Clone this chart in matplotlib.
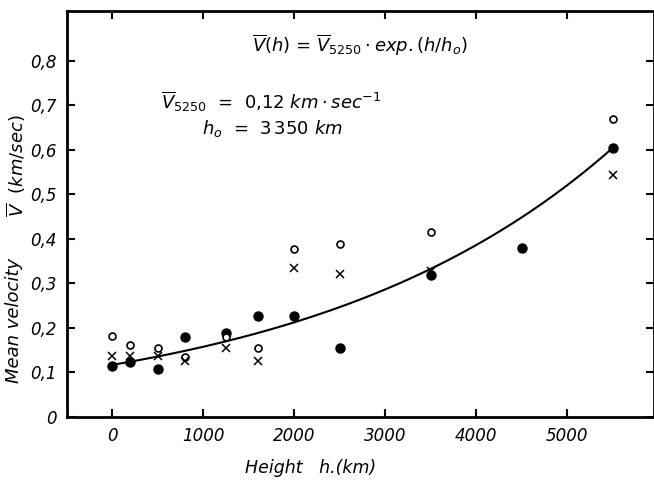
import numpy as np
import matplotlib
matplotlib.use("Agg")
import matplotlib.pyplot as plt

plt.rcParams['font.family'] = ['DejaVu Sans']
plt.rcParams['mathtext.fontset'] = 'dejavusans'

# Data
h_filled = [0, 200, 500, 800, 1250, 1600, 2000, 2500, 3500, 4500, 5500]
v_filled = [0.115, 0.123, 0.108, 0.179, 0.188, 0.227, 0.226, 0.154, 0.318, 0.380, 0.605]
h_open = [0, 200, 500, 800, 1250, 1600, 2000, 2500, 3500, 5500]
v_open = [0.181, 0.161, 0.156, 0.134, 0.179, 0.155, 0.378, 0.388, 0.415, 0.670]
h_cross = [0, 200, 500, 800, 1250, 1600, 2000, 2500, 3500, 5500]
v_cross = [0.136, 0.137, 0.136, 0.126, 0.154, 0.126, 0.334, 0.321, 0.328, 0.543]
V0 = 0.117
h0 = 3350
xticks = [0, 1000, 2000, 3000, 4000, 5000]
yticks = [0, 0.1, 0.2, 0.3, 0.4, 0.5, 0.6, 0.7, 0.8]
ytick_labels = ['0', '0,1', '0,2', '0,3', '0,4', '0,5', '0,6', '0,7', '0,8']

fig = plt.figure(figsize=(6.54, 4.86), dpi=100)
ax = fig.add_axes([0.102, 0.142, 0.898, 0.836])

hc = np.linspace(0, 5500, 200)
ax.plot(hc, V0 * np.exp(hc / h0), color='black', lw=1.5)
ax.plot(h_filled, v_filled, 'o', color='black', ms=6.5, zorder=3)
ax.plot(h_open, v_open, 'o', mfc='white', mec='black', mew=1.2, ms=5, zorder=3)
ax.plot(h_cross, v_cross, ls='none', marker='x', color='black', ms=6, mew=1.1, zorder=4)

ax.set_xlim(-498, 5956)
ax.set_ylim(0, 0.913)
ax.set_xticks(xticks)
ax.set_xticklabels([str(t) for t in xticks], fontstyle='italic', fontsize=12)
ax.set_yticks(yticks)
ax.set_yticklabels(ytick_labels, fontstyle='italic', fontsize=12)
ax.tick_params(direction='in', length=6, width=1.5, top=True, right=True, pad=7)
for s in ax.spines.values():
    s.set_linewidth(2)

fig.text(0.375, 0.027, 'Height   h.(km)', fontstyle='italic', fontsize=12.5, ha='left')
fig.text(0.022, 0.34, 'Mean velocity', fontstyle='italic', fontsize=13, rotation=90, ha='center', va='center')
fig.text(0.025, 0.66, r'$\overline{\mathit{V}}$  $\mathit{(km/sec)}$', fontsize=13, rotation=90, ha='center', va='center')

ax.text(0.50, 0.915, r'$\overline{\mathit{V}}\mathit{(h)}$ = $\overline{\mathit{V}}_{\mathit{5250}}\cdot \mathit{exp.(h/h_o)}$',
        transform=ax.transAxes, ha='center', va='center', fontsize=13)
ax.text(0.16, 0.775, r'$\overline{\mathit{V}}_{\mathit{5250}}$  =  $\mathit{0{,}12\ km}\cdot\mathit{sec^{-1}}$',
        transform=ax.transAxes, ha='left', va='center', fontsize=13)
ax.text(0.23, 0.71, r'$\mathit{h_o}$  =  $\mathit{3\,350\ km}$',
        transform=ax.transAxes, ha='left', va='center', fontsize=13)

fig.savefig('out.png', dpi=100)
